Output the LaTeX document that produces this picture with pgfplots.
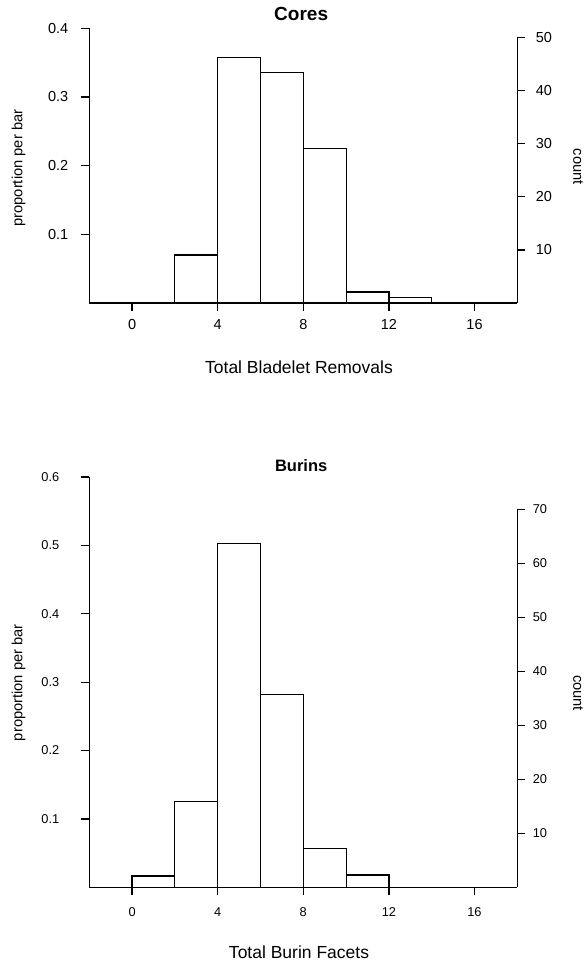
\documentclass[border=0pt]{standalone}
\usepackage{fontspec}
\setmainfont{Liberation Sans}
\usepackage{pgfplots}
\pgfplotsset{compat=1.18}
\begin{document}
\begin{tikzpicture}
\useasboundingbox (0,0) rectangle (585pt,962pt);
\pgfplotsset{
  base/.style={
    scale only axis, width=428pt, xmin=-2, xmax=18, ymin=0,
    axis line style={line width=1.3pt, -},
    tick style={line width=1.3pt, black},
    tick align=outside, major tick length=8pt,
    /pgf/number format/assume math mode=true,
    /pgf/number format/fixed,
    clip=false,
  },
}
% ---------- Top: Cores ----------
\begin{axis}[base, at={(89.3pt,659pt)}, anchor=south west, height=274.7pt, ymax=0.4,
  axis x line*=bottom, axis y line*=left,
  xtick={0,4,8,12,16}, ytick={0.1,0.2,0.3,0.4},
  ticklabel style={font=\fontsize{14.5}{16}\selectfont},
  yticklabel style={xshift=-9.5pt},
  xticklabel style={yshift=-5pt},
  title={\textbf{Cores}},
  title style={at={(axis description cs:0.495,1.052)}, anchor=center, yshift=-6pt, font=\fontsize{19}{22}\selectfont},
  xlabel={Total Bladelet Removals},
  xlabel style={at={(axis description cs:0.49,-0.233)}, anchor=center, font=\fontsize{17.5}{20}\selectfont},
  ylabel={proportion per bar},
  ylabel style={at={(axis description cs:-0.165,0.491)}, anchor=center, font=\fontsize{14.7}{17}\selectfont},
]
\addplot[ybar interval, draw=black, fill=white, line width=1.2pt]
  coordinates {(2,0.070) (4,0.358) (6,0.336) (8,0.225) (10,0.016) (12,0.008) (14,0)};
\end{axis}
\begin{axis}[base, at={(89.3pt,659pt)}, anchor=south west, height=265.7pt, ymax=50,
  hide x axis, axis y line*=right,
  ytick={10,20,30,40,50},
  ticklabel style={font=\fontsize{14.5}{16}\selectfont},
  yticklabel style={xshift=7pt},
  ylabel={count},
  ylabel style={at={(axis description cs:1.142,0.512)}, anchor=center, rotate=180, font=\fontsize{14.7}{17}\selectfont},
]
\addplot[draw=none] coordinates {(0,0)};
\end{axis}
% ---------- Bottom: Burins ----------
\begin{axis}[base, at={(89.3pt,74.7pt)}, anchor=south west, height=410.2pt, ymax=0.6,
  axis x line*=bottom, axis y line*=left,
  xtick={0,4,8,12,16}, ytick={0.1,0.2,0.3,0.4,0.5,0.6},
  ticklabel style={font=\fontsize{12.8}{14}\selectfont},
  yticklabel style={xshift=-18.5pt},
  xticklabel style={yshift=-9pt},
  title={\textbf{Burins}},
  title style={at={(axis description cs:0.495,1.027)}, anchor=center, yshift=-6pt, font=\fontsize{16.5}{19}\selectfont},
  xlabel={Total Burin Facets},
  xlabel style={at={(axis description cs:0.49,-0.159)}, anchor=center, font=\fontsize{17.5}{20}\selectfont},
  ylabel={proportion per bar},
  ylabel style={at={(axis description cs:-0.165,0.499)}, anchor=center, font=\fontsize{14.7}{17}\selectfont},
]
\addplot[ybar interval, draw=black, fill=white, line width=1.2pt]
  coordinates {(0,0.0165) (2,0.1258) (4,0.503) (6,0.2818) (8,0.0569) (10,0.0179) (12,0)};
\end{axis}
\begin{axis}[base, at={(89.3pt,74.7pt)}, anchor=south west, height=378pt, ymax=70,
  hide x axis, axis y line*=right,
  ytick={10,20,30,40,50,60,70},
  ticklabel style={font=\fontsize{12.8}{14}\selectfont},
  yticklabel style={xshift=4pt},
  ylabel={count},
  ylabel style={at={(axis description cs:1.142,0.514)}, anchor=center, rotate=180, font=\fontsize{14.7}{17}\selectfont},
]
\addplot[draw=none] coordinates {(0,0)};
\end{axis}
\end{tikzpicture}
\end{document}
